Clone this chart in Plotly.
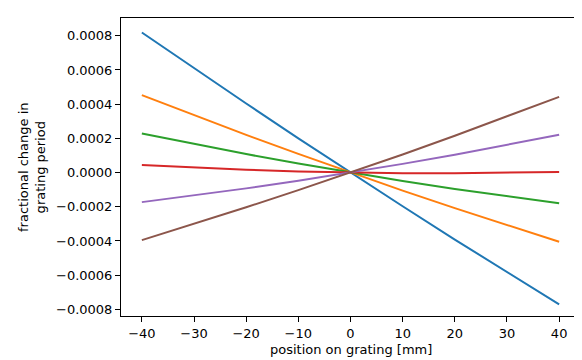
import plotly.graph_objects as go

# position on grating [mm]
position = [-40, -30, -20, -10, 0, 10, 20, 30, 40]

# fractional change in grating period
blue = [0.000819, 0.000610, 0.000404, 0.000200, 0.0, -0.000197, -0.000392, -0.000583, -0.000771]
orange = [0.000453, 0.000335, 0.000220, 0.000109, 0.0, -0.000106, -0.000208, -0.000308, -0.000405]
green = [0.000229, 0.000167, 0.000108, 0.000053, 0.0, -0.000050, -0.000096, -0.000140, -0.000180]
red = [0.0000445, 0.0000288, 0.0000162, 0.0000066, 0.0, -0.0000036, -0.0000042, -0.0000018, 0.0000035]
purple = [-0.000173, -0.000134, -0.0000925, -0.0000478, 0.0, 0.0000508, 0.000104, 0.000161, 0.000221]
brown = [-0.000395, -0.000301, -0.000203, -0.000103, 0.0, 0.000106, 0.000215, 0.000328, 0.000443]

series = [
    (blue, "#1f77b4"),
    (orange, "#ff7f0e"),
    (green, "#2ca02c"),
    (red, "#d62728"),
    (purple, "#9467bd"),
    (brown, "#8c564b"),
]

fig = go.Figure()
for values, color in series:
    fig.add_trace(go.Scatter(x=position, y=values, mode="lines",
                             line=dict(color=color, width=2), showlegend=False))

axis_style = dict(showgrid=False, zeroline=False, showline=True, linecolor="black",
                  linewidth=1, mirror=True, ticks="outside", ticklen=5, tickwidth=1,
                  tickcolor="black", tickfont=dict(size=13, color="black"),
                  automargin=False)

fig.update_xaxes(range=[-44, 44], tickmode="array", tickvals=list(range(-40, 41, 10)),
                 **axis_style)
fig.update_yaxes(range=[-0.000839, 0.000904], tickmode="array",
                 tickvals=[-0.0008, -0.0006, -0.0004, -0.0002, 0, 0.0002, 0.0004, 0.0006, 0.0008],
                 tickformat=".4f", **axis_style)

# axis titles placed as annotations so the margins stay fixed
fig.add_annotation(text="position on grating [mm]", xref="paper", yref="paper",
                   x=0.5, y=-0.111, xanchor="center", yanchor="middle",
                   showarrow=False, font=dict(size=13, color="black"))
fig.add_annotation(text="fractional change in<br>grating period", xref="paper", yref="paper",
                   x=-0.194, y=0.5, xanchor="center", yanchor="middle", textangle=-90,
                   showarrow=False, font=dict(size=13, color="black"))

fig.update_layout(width=582, height=360, margin=dict(l=113, r=10, t=10, b=52),
                  paper_bgcolor="white", plot_bgcolor="white",
                  font=dict(family="DejaVu Sans", size=13, color="black"))

fig.write_html("out.html")
